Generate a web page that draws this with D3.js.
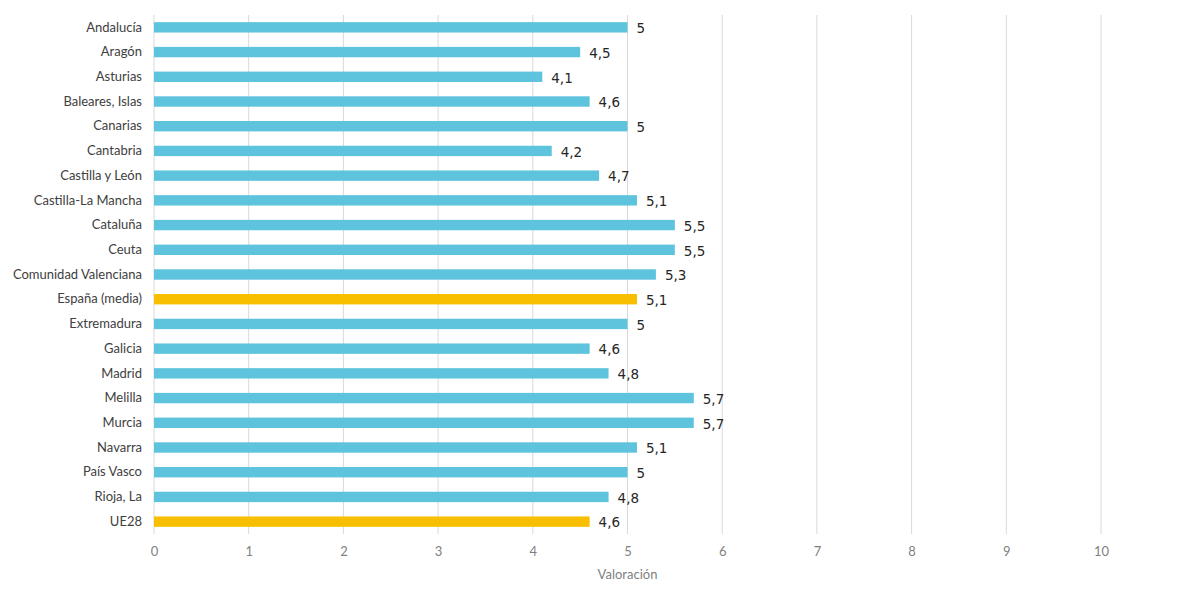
<!DOCTYPE html>
<html>
<head>
<meta charset="utf-8">
<script src="https://cdn.jsdelivr.net/npm/d3@7"></script>
<style>
  body { margin: 0; background: #fff; }
  #chart { width: 1180px; height: 589px; }
</style>
</head>
<body>
<div id="chart"></div>
<script>
// Data
const regions = [
  "Andalucía", "Aragón", "Asturias", "Baleares, Islas", "Canarias", "Cantabria",
  "Castilla y León", "Castilla-La Mancha", "Cataluña", "Ceuta",
  "Comunidad Valenciana", "España (media)", "Extremadura", "Galicia", "Madrid",
  "Melilla", "Murcia", "Navarra", "País Vasco", "Rioja, La", "UE28"
];
const valoracion = [5, 4.5, 4.1, 4.6, 5, 4.2, 4.7, 5.1, 5.5, 5.5, 5.3, 5.1, 5, 4.6, 4.8, 5.7, 5.7, 5.1, 5, 4.8, 4.6];
const highlighted = ["España (media)", "UE28"];
const xTicks = [0, 1, 2, 3, 4, 5, 6, 7, 8, 9, 10];

(function () {
  const fullWidth = 1180;
  const fullHeight = 589;
  const margin = { top: 15, right: 79, bottom: 55, left: 154 };
  const width = fullWidth - margin.left - margin.right;
  const height = fullHeight - margin.top - margin.bottom;

  const data = regions.map((r, i) => ({ region: r, value: valoracion[i] }));

  const svg = d3
    .select("#chart")
    .append("svg")
    .attr("width", fullWidth)
    .attr("height", fullHeight)
    .append("g")
    .attr("transform", `translate(${margin.left},${margin.top})`);

  // Scales
  const xScale = d3.scaleLinear().domain([0, 10]).range([0, width]);
  const yScale = d3
    .scaleBand()
    .domain(regions)
    .range([0, height])
    .paddingInner(0.58)
    .paddingOuter(0.29);

  // Gridlines
  svg
    .selectAll("line.grid")
    .data(xTicks)
    .enter()
    .append("line")
    .attr("class", "grid")
    .attr("x1", (d) => xScale(d))
    .attr("x2", (d) => xScale(d))
    .attr("y1", 0)
    .attr("y2", height)
    .style("stroke", "#d9d9d9")
    .style("stroke-width", 1);

  // X axis tick labels
  const xAxis = svg
    .append("g")
    .attr("transform", `translate(0,${height})`)
    .call(d3.axisBottom(xScale).tickValues(xTicks).tickSize(0).tickPadding(13).tickFormat(d3.format("d")));
  xAxis.select(".domain").remove();
  xAxis
    .selectAll("text")
    .style("font-family", "Lato, 'Open Sans', sans-serif")
    .style("font-size", "13px")
    .style("fill", "#7f7f7f");

  // X axis label
  svg
    .append("text")
    .attr("x", width / 2)
    .attr("y", height + 45)
    .style("text-anchor", "middle")
    .style("font-family", "Lato, 'Open Sans', sans-serif")
    .style("font-size", "13px")
    .style("fill", "#7f7f7f")
    .text("Valoración");

  // Category labels
  const yAxis = svg
    .append("g")
    .call(d3.axisLeft(yScale).tickSize(0).tickPadding(12));
  yAxis.select(".domain").remove();
  yAxis
    .selectAll("text")
    .style("font-family", "Lato, 'Open Sans', sans-serif")
    .style("font-size", "13px")
    .style("fill", "#404040");

  // Bars
  svg
    .selectAll("rect.bar")
    .data(data)
    .enter()
    .append("rect")
    .attr("class", "bar")
    .attr("x", xScale(0))
    .attr("y", (d) => yScale(d.region))
    .attr("width", (d) => xScale(d.value) - xScale(0))
    .attr("height", yScale.bandwidth())
    .style("fill", (d) => (highlighted.includes(d.region) ? "#f8bf00" : "#5ec3dd"));

  // Value labels
  svg
    .selectAll("text.value")
    .data(data)
    .enter()
    .append("text")
    .attr("class", "value")
    .attr("x", (d) => xScale(d.value) + 9)
    .attr("y", (d) => yScale(d.region) + yScale.bandwidth() / 2 + 1)
    .attr("dy", "0.35em")
    .style("font-family", "'DejaVu Sans', Verdana, sans-serif")
    .style("font-size", "13.5px")
    .style("fill", "#262626")
    .text((d) => String(d.value).replace(".", ","));
})();
</script>
</body>
</html>
